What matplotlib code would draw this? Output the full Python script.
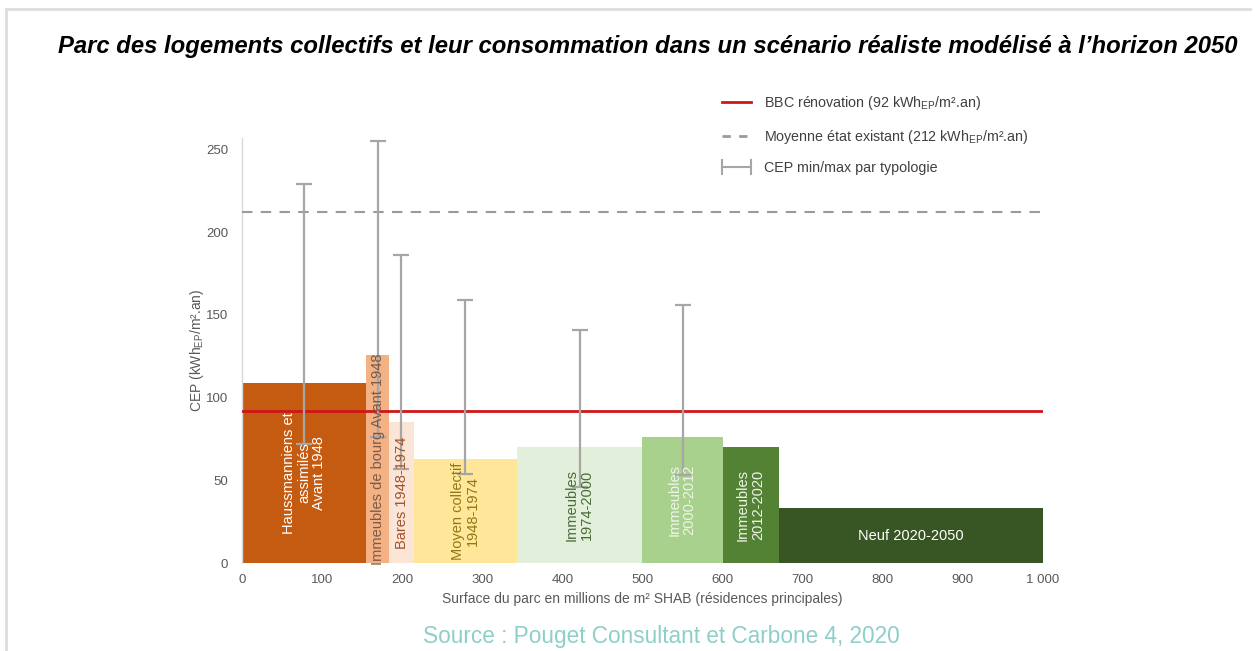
import matplotlib
matplotlib.use("Agg")
import matplotlib.pyplot as plt
from matplotlib.lines import Line2D

plt.rcParams['font.family'] = ['Liberation Sans', 'DejaVu Sans']
plt.rcParams['mathtext.fontset'] = 'custom'
plt.rcParams['mathtext.rm'] = 'Liberation Sans'
plt.rcParams['mathtext.it'] = 'Liberation Sans:italic'

# ---------------- data ----------------
categories = ["Haussmanniens et\nassimilés\nAvant 1948",
              "Immeubles de bourg Avant 1948",
              "Bares 1948-1974",
              "Moyen collectif\n1948-1974",
              "Immeubles\n1974-2000",
              "Immeubles\n2000-2012",
              "Immeubles\n2012-2020",
              "Neuf 2020-2050"]
surface = [155, 29, 31, 128, 156, 101, 70, 330]   # millions m² SHAB (bar widths)
cep = [109, 126, 85, 63, 70, 76, 70, 33]           # kWh_EP/m².an
cep_min = [72, 76, 57, 54, 46, 53, None, None]
cep_max = [229, 255, 186, 159, 141, 156, None, None]
err_x = [77, 170, 199, 279, 422, 551, None, None]
bbc_value = 92
moyenne_value = 212
x_ticks = [0, 100, 200, 300, 400, 500, 600, 700, 800, 900, 1000]
x_ticklabels = ["0", "100", "200", "300", "400", "500", "600", "700", "800", "900", "1 000"]
y_ticks = [0, 50, 100, 150, 200, 250]

colors = ["#C55A11", "#F4B183", "#FBE5D6", "#FFE699", "#E2EFDA", "#A9D18E", "#548235", "#375623"]
text_colors = ["white", "#7A5A48", "#A0522D", "#8C7A1A", "#4A6B35", "#EEF5E8", "#EEF5E8", "white"]

# ---------------- figure ----------------
W, H = 1255, 651
fig = plt.figure(figsize=(W / 100, H / 100), dpi=100)

# frame
fig.add_artist(Line2D([6 / W, 6 / W], [0, 1 - 9 / H], transform=fig.transFigure, color="#DDDDDD", lw=2))
fig.add_artist(Line2D([6 / W, 1250 / W], [1 - 9 / H, 1 - 9 / H], transform=fig.transFigure, color="#DDDDDD", lw=2))

fig.text(648 / W, 1 - 46 / H,
         "Parc des logements collectifs et leur consommation dans un scénario réaliste modélisé à l’horizon 2050",
         ha="center", va="center", fontsize=17.2, fontweight="bold", fontstyle="italic", color="black")
fig.text(661 / W, 1 - 636 / H, "Source : Pouget Consultant et Carbone 4, 2020",
         ha="center", va="center", fontsize=16.3, color="#8ECFC9")

ax_l, ax_r, ax_t, ax_b = 242, 1043, 138, 563
ax = fig.add_axes([ax_l / W, 1 - ax_b / H, (ax_r - ax_l) / W, (ax_b - ax_t) / H])

lefts = []
acc = 0
for w in surface:
    lefts.append(acc)
    acc += w

ax.bar(lefts, cep, width=surface, align="edge", color=colors, edgecolor="none", zorder=2)

for i, (l, w, h, lab) in enumerate(zip(lefts, surface, cep, categories)):
    rot = 0 if i == len(categories) - 1 else 90
    ax.text(l + w / 2, h / 2, lab, rotation=rot, ha="center", va="center",
            color=text_colors[i], fontsize=10.5, zorder=5, linespacing=1.1)

ax.axhline(bbc_value, color="#D0161A", lw=2, zorder=3)
ax.axhline(moyenne_value, color="#9A9A9A", lw=1.5, ls=(0, (5, 4)), zorder=3)

for x, lo, hi in zip(err_x, cep_min, cep_max):
    if x is None:
        continue
    ax.errorbar([x], [(lo + hi) / 2], yerr=[[(hi - lo) / 2], [(hi - lo) / 2]], fmt="none",
                ecolor="#A6A6A6", elinewidth=1.6, capsize=6, capthick=1.6, zorder=4)

ax.set_xlim(0, 1000)
ax.set_ylim(0, 257)
ax.set_xticks(x_ticks)
ax.set_xticklabels(x_ticklabels)
ax.set_yticks(y_ticks)
ax.tick_params(axis="both", length=0, colors="#595959", labelsize=9.5)
ax.tick_params(axis="x", pad=8)
ax.tick_params(axis="y", pad=10)
for s in ["top", "right", "bottom"]:
    ax.spines[s].set_visible(False)
ax.spines["left"].set_color("#D9D9D9")
ax.spines["left"].set_linewidth(1)

ax.set_xlabel("Surface du parc en millions de m² SHAB (résidences principales)", color="#595959", fontsize=10, labelpad=4)
ax.set_ylabel("CEP (kWh$_{\\mathrm{EP}}$/m².an)", color="#595959", fontsize=10, labelpad=0)

handles = [Line2D([], [], color="#D0161A", lw=2),
           Line2D([], [], color="#9A9A9A", lw=2, ls=(0, (3, 3))),
           Line2D([], [], color="#A6A6A6", lw=1.5, marker="|", markersize=12, markeredgewidth=1.5)]
labels = ["BBC rénovation (92 kWh$_{\\mathrm{EP}}$/m².an)",
          "Moyenne état existant (212 kWh$_{\\mathrm{EP}}$/m².an)",
          "CEP min/max par typologie"]
fig.legend(handles, labels, loc="upper left", bbox_to_anchor=(705 / W, 1 - 81 / H), frameon=False,
           fontsize=10.3, labelcolor="#404040", numpoints=2, handlelength=2.6, labelspacing=1.1,
           handletextpad=0.6)

fig.savefig("out.png", dpi=100)
